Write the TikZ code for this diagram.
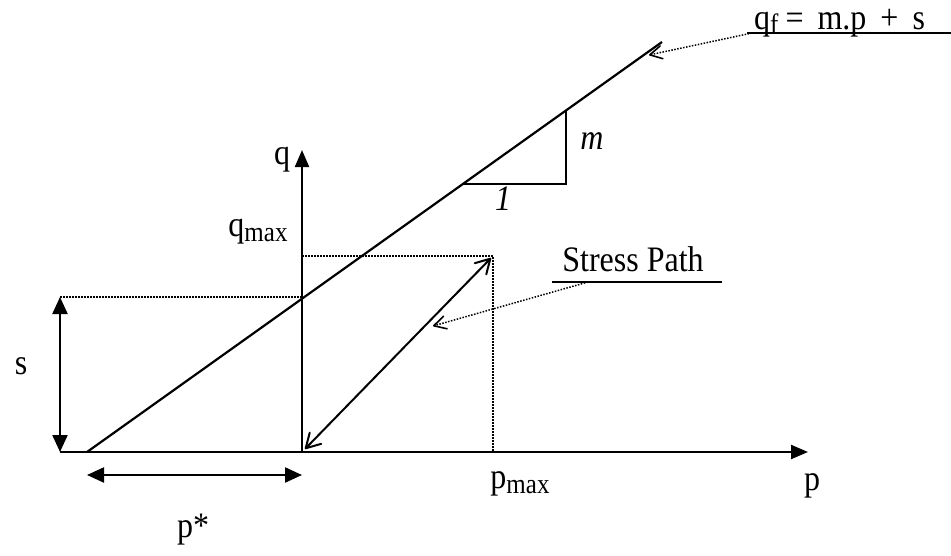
\documentclass[tikz,border=0pt]{standalone}
\usepackage{fontspec}
\setmainfont{Liberation Serif}
\usetikzlibrary{arrows.meta}

\newcommand{\lowsub}[1]{\raisebox{-0.3ex}{\fontsize{25}{27}\selectfont #1}}
\newcommand{\tallbox}[1]{\scalebox{1}[1.12]{#1}}

\tikzset{
  lbl/.style={inner sep=0pt, font=\fontsize{32}{38}\selectfont},
  axisline/.style={line width=2.2pt, -{Triangle[length=17pt,width=14pt]}},
  dimarrow/.style={line width=2.2pt, {Triangle[length=17pt,width=15pt]}-{Triangle[length=17pt,width=15pt]}},
  guide/.style={line width=1.5pt, dash pattern=on 1.5pt off 1.5pt},
  pointer/.style={guide, -{Straight Barb[length=12pt,width=13pt,line width=1.6pt,round]}},
  uline/.style={line width=1.8pt}
}

\begin{document}
\begin{tikzpicture}[x=1pt,y=-1pt]
\useasboundingbox (0,0) rectangle (951,555);

% axes
\coordinate (origin) at (302,452);
\coordinate (pstart) at (60,452);
\coordinate (pend) at (808,452);
\coordinate (qend) at (302,150);
\draw[line width=2.2pt] (pstart) -- (origin);
\draw[axisline] (origin) -- (pend);
\draw[axisline] (origin) -- (qend);

% failure line
\coordinate (fbase) at (87,452);
\coordinate (ftop) at (662,42);
\draw[line width=2.2pt] (fbase) -- (ftop);

% slope triangle
\coordinate (tria) at (463,184);
\coordinate (trib) at (566,184);
\coordinate (tric) at (566,110);
\draw[line width=1.8pt] (tria) -- (trib) -- (tric);
\node[lbl, font=\fontsize{32}{38}\selectfont\itshape] (mlbl) at (592,141) {\tallbox{m}};
\node[lbl, font=\fontsize{32}{38}\selectfont\itshape] (onelbl) at (503,199) {\tallbox{1}};

% intercept s
\coordinate (stop) at (60,297);
\coordinate (scross) at (302,297);
\draw[guide] (stop) -- (scross);
\draw[dimarrow] (stop) -- (pstart);
\node[lbl] (slbl) at (21,366) {\tallbox{s}};

% p*
\coordinate (pstara) at (87,475);
\coordinate (pstarb) at (302,475);
\draw[dimarrow] (pstara) -- (pstarb);
\node[lbl] (pstarlbl) at (193,530) {\tallbox{p*}};

% maximum stress point
\coordinate (qmaxpt) at (302,256);
\coordinate (peak) at (493,256);
\coordinate (pmaxpt) at (493,452);
\draw[guide] (qmaxpt) -- (peak) -- (pmaxpt);
\coordinate (spa) at (305,449);
\coordinate (spb) at (491,258);
\draw[line width=2pt, {Straight Barb[length=14pt,width=16pt,round]}-{Straight Barb[length=14pt,width=16pt,round]}] (spa) -- (spb);

% axis labels
\node[lbl] (qlbl) at (282,160) {\tallbox{q}};
\node[lbl] (qmaxlbl) at (258,232) {\tallbox{q\lowsub{max}}};
\node[lbl] (pmaxlbl) at (520,484) {\tallbox{p\lowsub{max}}};
\node[lbl] (plbl) at (812,486) {\tallbox{p}};

% stress path callout
\node[lbl] (splbl) at (633,259) {\tallbox{Stress Path}};
\coordinate (spula) at (552,282);
\coordinate (spulb) at (722,282);
\draw[uline] (spula) -- (spulb);
\coordinate (spfrom) at (588,282);
\coordinate (spto) at (433,326);
\draw[pointer] (spfrom) -- (spto);

% failure line callout
\node[lbl, anchor=base west] (qflbl) at (754,29) {\tallbox{q\lowsub{f}\hspace{7pt}=\hspace{14pt}m.p\hspace{14pt}+\hspace{14pt}s}};
\coordinate (qfula) at (747,33);
\coordinate (qfulb) at (951,33);
\draw[uline] (qfula) -- (qfulb);
\coordinate (qffrom) at (752,33);
\coordinate (qfto) at (649,55);
\draw[pointer] (qffrom) -- (qfto);
\end{tikzpicture}
\end{document}
